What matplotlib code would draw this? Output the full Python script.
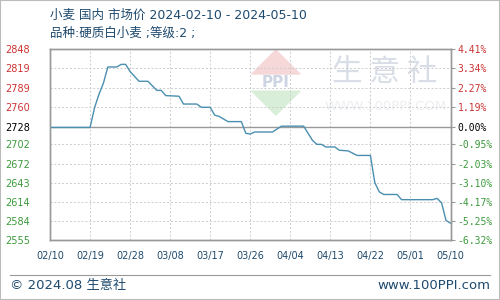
import matplotlib
matplotlib.use("Agg")
import matplotlib.pyplot as plt
from matplotlib.patches import Polygon
import pandas as pd

plt.rcParams['font.family'] = ['DejaVu Sans', 'Noto Sans CJK SC']

title = "小麦 国内 市场价 2024-02-10 - 2024-05-10"
subtitle = "品种:硬质白小麦 ;等级:2 ;"
base_price = 2728

dates = ["2024-02-10", "2024-02-19", "2024-02-20", "2024-02-21", "2024-02-22",
         "2024-02-23", "2024-02-25", "2024-02-26", "2024-02-27", "2024-02-28",
         "2024-03-01", "2024-03-03", "2024-03-05", "2024-03-06", "2024-03-07",
         "2024-03-10", "2024-03-11", "2024-03-14", "2024-03-15", "2024-03-17",
         "2024-03-18", "2024-03-19", "2024-03-21", "2024-03-24", "2024-03-25",
         "2024-03-26", "2024-03-27", "2024-03-31", "2024-04-02", "2024-04-07",
         "2024-04-09", "2024-04-10", "2024-04-11", "2024-04-12", "2024-04-14",
         "2024-04-15", "2024-04-17", "2024-04-19", "2024-04-22", "2024-04-23",
         "2024-04-24", "2024-04-25", "2024-04-28", "2024-04-29", "2024-05-06",
         "2024-05-07", "2024-05-08", "2024-05-09", "2024-05-10"]
prices = [2728, 2728, 2758, 2779, 2796,
          2821, 2821, 2825, 2825, 2814,
          2799, 2799, 2785, 2785, 2777,
          2776, 2764, 2764, 2759, 2759,
          2747, 2745, 2737, 2737, 2719,
          2718, 2721, 2721, 2730, 2730,
          2708, 2702, 2702, 2698, 2698,
          2693, 2692, 2685, 2685, 2643,
          2629, 2625, 2625, 2617, 2617,
          2619, 2612, 2585, 2581]

y_ticks = [2848, 2819, 2789, 2760, 2728, 2702, 2672, 2643, 2614, 2584, 2555]
pct_labels = ["4.41%", "3.34%", "2.27%", "1.19%", "0.00%", "-0.95%", "-2.03%",
              "-3.10%", "-4.17%", "-5.25%", "-6.32%"]
x_ticks = ["2024-02-10", "2024-02-19", "2024-02-28", "2024-03-08", "2024-03-17",
           "2024-03-26", "2024-04-04", "2024-04-13", "2024-04-22", "2024-05-01",
           "2024-05-10"]

RED = "#cc3333"
GREEN = "#3c9a3c"
TXT = "#1e4a6e"


def tick_color(v):
    if v > base_price:
        return RED
    if v < base_price:
        return GREEN
    return "black"


fig = plt.figure(figsize=(5, 3), dpi=100)
ax = fig.add_axes([0.1, 0.2, 0.801, 0.636])

x = pd.to_datetime(dates)
xt = pd.to_datetime(x_ticks)

# watermark: logo + site name
ax.add_patch(Polygon([[0.504, 0.87], [0.624, 0.87], [0.564, 0.996]], closed=True,
                     transform=ax.transAxes, color="#f6d8d8", zorder=0))
ax.add_patch(Polygon([[0.504, 0.78], [0.624, 0.78], [0.564, 0.655]], closed=True,
                     transform=ax.transAxes, color="#d8eed8", zorder=0))
ax.text(0.564, 0.825, "PPI", transform=ax.transAxes, fontsize=11, color="#cdd4e2",
        ha="center", va="center", fontweight="bold", zorder=0)
ax.text(0.836, 0.88, "生 意 社", transform=ax.transAxes, fontsize=22,
        color="#d8dde6", ha="center", va="center", family="Noto Sans CJK SC", zorder=0)
ax.text(0.838, 0.70, "WWW.100PPI.COM", transform=ax.transAxes, fontsize=9.5,
        color="#eceef2", ha="center", va="center", zorder=0)

ax.plot(x, prices, color="#4a8fb0", lw=1.0, zorder=3)
ax.axhline(base_price, color="#999999", lw=1.0, zorder=2)

ax.set_xlim(xt[0], xt[-1])
ax.set_ylim(base_price * (1 - 0.0632), base_price * (1 + 0.0441))
ax.set_xticks(xt)
ax.set_xticklabels([d.strftime("%m/%d") for d in xt], fontsize=7, color=TXT)
ax.set_yticks(y_ticks)
ax.set_yticklabels([str(v) for v in y_ticks], fontsize=7)
for lbl, v in zip(ax.get_yticklabels(), y_ticks):
    lbl.set_color(tick_color(v))
    lbl.set_horizontalalignment("left")
ax.tick_params(length=0, pad=8)
ax.tick_params(axis="y", pad=32)
ax.grid(True, color="#cccccc", ls=(0, (2, 2)), lw=0.7)

ax2 = ax.twinx()
ax2.set_ylim(ax.get_ylim())
ax2.set_yticks(y_ticks)
ax2.set_yticklabels(pct_labels, family="DejaVu Sans Mono", fontsize=7)
for lbl, v in zip(ax2.get_yticklabels(), y_ticks):
    lbl.set_color(tick_color(v))
ax2.tick_params(length=3, pad=2, color="#999999")

for a in (ax, ax2):
    for s in a.spines.values():
        s.set_color("#999999")
        s.set_linewidth(1.0)

fig.text(0.1, 0.948, title, fontsize=9, color=TXT, va="center")
fig.text(0.1, 0.89, subtitle, fontsize=9, color=TXT, va="center")

fig.add_artist(plt.Line2D([0.02, 0.98], [0.083, 0.083], color="#999999", lw=0.8))
fig.text(0.02, 0.048, "© 2024.08 生意社", fontsize=9.5, color=TXT, va="center")
fig.text(0.98, 0.048, "www.100PPI.com", fontsize=9.5, color=TXT, va="center",
         ha="right")

fig.patches.append(plt.Rectangle((0, 0), 1, 1, transform=fig.transFigure, fill=False,
                                 edgecolor="#bbbbbb", lw=1.5))

fig.savefig("out.png", dpi=100)
